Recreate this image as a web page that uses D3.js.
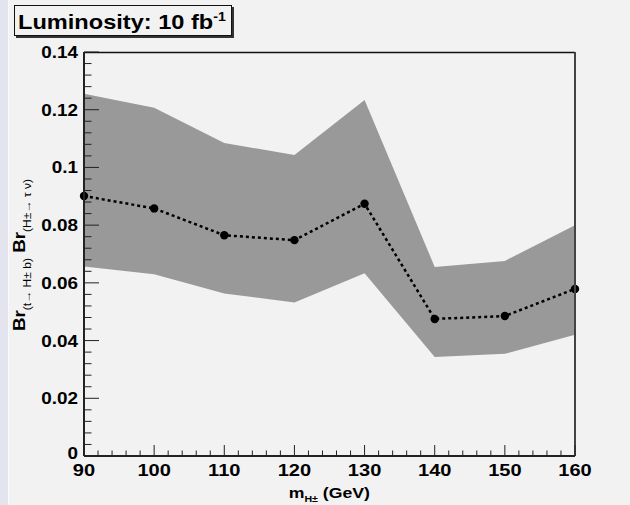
<!DOCTYPE html>
<html>
<head>
<meta charset="utf-8">
<script src="https://cdn.jsdelivr.net/npm/d3@7"></script>
<style>
  body { margin: 0; background: #f2f2f2; }
  svg { display: block; font-family: "Liberation Sans", Arial, sans-serif; font-weight: bold; }
</style>
</head>
<body>
<script>
// chart values
var masses = [90, 100, 110, 120, 130, 140, 150, 160];
var brMean = [0.0901, 0.0858, 0.0765, 0.0748, 0.0874, 0.0475, 0.0485, 0.0579];
var brUpper = [0.1255, 0.1207, 0.1085, 0.1043, 0.1234, 0.0655, 0.0676, 0.0800];
var brLower = [0.0657, 0.0630, 0.0563, 0.0532, 0.0633, 0.0343, 0.0354, 0.0420];
var xTicks = [90, 100, 110, 120, 130, 140, 150, 160];
var yTicks = [0, 0.02, 0.04, 0.06, 0.08, 0.1, 0.12, 0.14];

var W = 630, H = 505;
var margin = {top: 52, right: 55, bottom: 49, left: 84},
    width = W - margin.left - margin.right,
    height = H - margin.top - margin.bottom;
var stretch = 1.18; // the original fonts are wider than Liberation Sans

var x_scale = d3.scaleLinear().domain([90, 160]).range([0, width]);
var y_scale = d3.scaleLinear().domain([0, 0.14]).range([height, 0]);

var svg = d3.select("body").append("svg")
    .attr("width", W)
    .attr("height", H);

// canvas background + left strip
svg.append("rect").attr("width", W).attr("height", H).attr("fill", "#f2f2f2");
svg.append("rect").attr("width", 8).attr("height", H).attr("fill", "#e4e4ee");
svg.append("rect").attr("x", 8).attr("width", 1).attr("height", H).attr("fill", "#fafafa");

var g = svg.append("g")
    .attr("transform", "translate(" + margin.left + "," + margin.top + ")");

var rows = masses.map(function(m, i) {
  return {m: m, mean: brMean[i], lo: brLower[i], hi: brUpper[i]};
});

// uncertainty band
var band = d3.area()
    .x(function(d) { return x_scale(d.m); })
    .y0(function(d) { return y_scale(d.lo); })
    .y1(function(d) { return y_scale(d.hi); });

g.append("path")
    .datum(rows)
    .attr("fill", "#999999")
    .attr("d", band);

// dotted central line
var line = d3.line()
    .x(function(d) { return x_scale(d.m); })
    .y(function(d) { return y_scale(d.mean); });

g.append("path")
    .datum(rows)
    .attr("fill", "none")
    .attr("stroke", "black")
    .attr("stroke-width", 2.5)
    .attr("stroke-dasharray", "3,3")
    .attr("d", line);

g.selectAll("circle.pt")
    .data(rows)
  .enter().append("circle")
    .attr("class", "pt")
    .attr("cx", function(d) { return x_scale(d.m); })
    .attr("cy", function(d) { return y_scale(d.mean); })
    .attr("r", 4.2)
    .attr("fill", "black");

// frame top / right
g.append("line").attr("x1", 0).attr("x2", width).attr("y1", 0.5).attr("y2", 0.5)
    .attr("stroke", "#111").attr("stroke-width", 1.5);
g.append("line").attr("x1", width).attr("x2", width).attr("y1", 0).attr("y2", height)
    .attr("stroke", "#444").attr("stroke-width", 2);

// x axis, ticks drawn inward
var xMinor = d3.range(90, 160.01, 2);
var xAx = g.append("g").attr("transform", "translate(0," + height + ")");
xAx.selectAll("line.minor")
    .data(xMinor)
  .enter().append("line")
    .attr("x1", function(d) { return x_scale(d); })
    .attr("x2", function(d) { return x_scale(d); })
    .attr("y1", 0)
    .attr("y2", function(d) { return d % 10 === 0 ? -11 : -5.5; })
    .attr("stroke", "#222").attr("stroke-width", 1);
xAx.append("line").attr("x1", 0).attr("x2", width).attr("y1", 0).attr("y2", 0)
    .attr("stroke", "#222").attr("stroke-width", 2);
xAx.selectAll("text")
    .data(xTicks)
  .enter().append("text")
    .attr("transform", function(d) { return "translate(" + x_scale(d) + ",20) scale(" + stretch + ",1)"; })
    .attr("text-anchor", "middle")
    .attr("font-size", 17)
    .text(function(d) { return d; });

// y axis
var yMinor = d3.range(0, 0.14001, 0.004);
var yAx = g.append("g");
yAx.selectAll("line.minor")
    .data(yMinor)
  .enter().append("line")
    .attr("y1", function(d) { return y_scale(d); })
    .attr("y2", function(d) { return y_scale(d); })
    .attr("x1", 0)
    .attr("x2", function(d, i) { return i % 5 === 0 ? 15 : 7.5; })
    .attr("stroke", "#222").attr("stroke-width", 1);
yAx.append("line").attr("x1", 0).attr("x2", 0).attr("y1", 0).attr("y2", height)
    .attr("stroke", "#222").attr("stroke-width", 2);
yAx.selectAll("text")
    .data(yTicks)
  .enter().append("text")
    .attr("transform", function(d) { return "translate(-6," + (y_scale(d) + (d === 0 ? 3 : 6)) + ") scale(" + stretch + ",1)"; })
    .attr("text-anchor", "end")
    .attr("font-size", 16)
    .text(function(d) { return +d.toFixed(2); });

// axis titles
var xt = svg.append("text")
    .attr("transform", "translate(370,498) scale(" + stretch + ",1)")
    .attr("text-anchor", "end")
    .attr("font-size", 15);
xt.append("tspan").text("m");
xt.append("tspan").attr("font-size", 9).attr("dy", 4).text("H\u00B1");
xt.append("tspan").attr("dy", -4).text(" (GeV)");

var yt = svg.append("text")
    .attr("transform", "translate(25,331) rotate(-90) scale(1.1,1)")
    .attr("text-anchor", "start")
    .attr("font-size", 17);
yt.append("tspan").text("Br");
yt.append("tspan").attr("font-size", 11).attr("font-weight", "normal").attr("dy", 6).text("(t\u2192 H\u00B1 b)");
yt.append("tspan").attr("dy", -6).text(" Br");
yt.append("tspan").attr("font-size", 11).attr("font-weight", "normal").attr("dy", 6).text("(H\u00B1\u2192 \u03C4 \u03BD)");

// luminosity box
svg.append("rect").attr("x", 16).attr("y", 7).attr("width", 218).attr("height", 31)
    .attr("fill", "#333");
svg.append("rect").attr("x", 14.5).attr("y", 5.5).attr("width", 217).attr("height", 30)
    .attr("fill", "#f2f2f2").attr("stroke", "#111").attr("stroke-width", 1);
var lt = svg.append("text")
    .attr("transform", "translate(18,29) scale(" + stretch + ",1)")
    .attr("font-size", 20);
lt.append("tspan").text("Luminosity: 10 fb");
lt.append("tspan").attr("font-size", 12).attr("dy", -8).text("-1");
</script>
</body>
</html>
